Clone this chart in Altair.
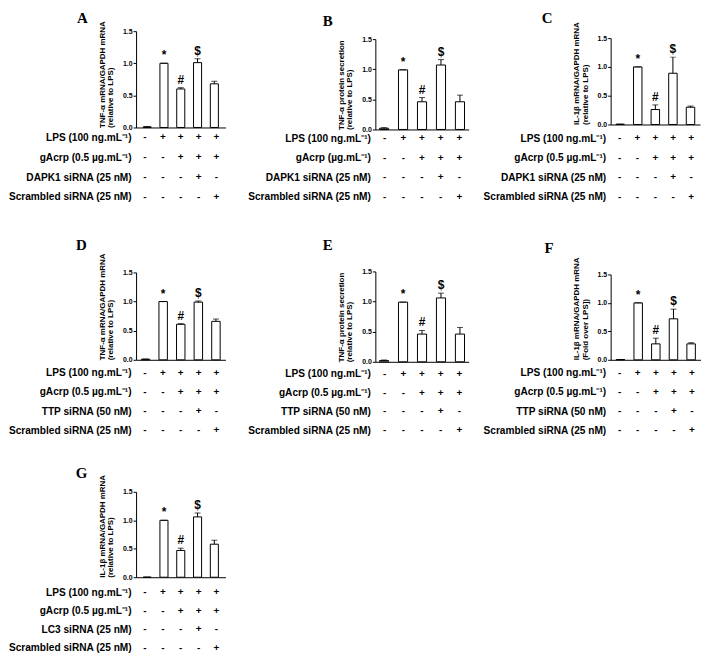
import altair as alt
import pandas as pd

# ---------------- data ----------------
conditions = ["c1", "c2", "c3", "c4", "c5"]
lps_signs = ["-", "+", "+", "+", "+"]
gacrp_signs = ["-", "-", "+", "+", "+"]
sirna_signs = ["-", "-", "-", "+", "-"]
scrambled_signs = ["-", "-", "-", "-", "+"]
sig_symbols = ["", "*", "#", "$", ""]

lps_label = "LPS (100 ng.mL\u207b\u00b9)"
gacrp_label = "gAcrp (0.5 \u00b5g.mL\u207b\u00b9)"
gacrp_label_nodose = "gAcrp (\u00b5g.mL\u207b\u00b9)"
dapk1_label = "DAPK1 siRNA (25 nM)"
ttp_label = "TTP siRNA (50 nM)"
lc3_label = "LC3 siRNA (25 nM)"
scrambled_label = "Scrambled siRNA (25 nM)"

tnf_mrna_title = ["TNF-\u03b1 mRNA/GAPDH mRNA", "(relative to LPS)"]
tnf_protein_title = ["TNF-\u03b1 protein secretion", "(relative to LPS)"]
il1b_title = ["IL-1\u03b2 mRNA/GAPDH mRNA", "(relative to LPS)"]
il1b_fold_title = ["IL-1\u03b2 mRNA/GAPDH mRNA", "(Fold over LPS])"]

a_values = [0.01, 1.00, 0.60, 1.01, 0.68]
a_errors = [0.004, 0.0, 0.02, 0.06, 0.04]
b_values = [0.02, 0.99, 0.46, 1.07, 0.46]
b_errors = [0.01, 0.0, 0.07, 0.09, 0.11]
c_values = [0.005, 1.00, 0.26, 0.89, 0.30]
c_errors = [0.0, 0.0, 0.08, 0.28, 0.02]
d_values = [0.01, 1.00, 0.61, 0.99, 0.66]
d_errors = [0.003, 0.0, 0.01, 0.02, 0.04]
e_values = [0.02, 0.99, 0.46, 1.06, 0.46]
e_errors = [0.01, 0.0, 0.06, 0.08, 0.11]
f_values = [0.005, 1.00, 0.28, 0.72, 0.28]
f_errors = [0.0, 0.0, 0.10, 0.17, 0.02]
g_values = [0.0, 1.00, 0.47, 1.06, 0.58]
g_errors = [0.0, 0.0, 0.04, 0.07, 0.07]

# ---------------- style ----------------
FONT = "Liberation Sans"
SERIF = "Liberation Serif"
INNER = 0.52


def x_scale(plot_w, outer):
    return alt.Scale(domain=conditions, range=[0, plot_w], paddingInner=INNER, paddingOuter=outer)


def bar_panel(letter, values, errors, ytitle, cell_w, plot_w, outer, cell_h, top_gap, title_off, title_dx):
    df = pd.DataFrame({"cond": conditions, "value": values, "err": errors, "sym": sig_symbols})
    xs = x_scale(plot_w, outer)
    x = alt.X("cond:N", scale=xs, sort=conditions,
              axis=alt.Axis(title=None, labels=False, ticks=False, domain=True,
                            domainColor="black", domainWidth=1, grid=False))
    ys = alt.Scale(domain=[0, 1.5], nice=False, zero=True, range=[cell_h, top_gap])
    yaxis = alt.Axis(values=[0, 0.5, 1.0, 1.5], format=".1f", grid=False,
                     domainColor="black", domainWidth=1, tickColor="black", tickSize=3,
                     tickWidth=1, labelFont=FONT, labelFontSize=7, labelFontWeight="bold",
                     labelColor="black", labelPadding=1, title=ytitle, titleFont=FONT,
                     titleFontSize=8, titleFontWeight="bold", titleColor="black",
                     titlePadding=8, titleLineHeight=8.5, titleAnchor="start")
    base = alt.Chart(df).transform_calculate(top="datum.value + datum.err").encode(x=x)
    bars = base.mark_bar(fill="white", stroke="black", strokeWidth=1).encode(
        y=alt.Y("value:Q", scale=ys, axis=yaxis))
    rules = base.mark_rule(color="black", strokeWidth=1).encode(
        y=alt.Y("value:Q", scale=ys, axis=yaxis), y2="top:Q")
    caps = base.mark_tick(color="black", thickness=1, size=6, orient="horizontal").encode(
        y=alt.Y("top:Q", scale=ys, axis=yaxis))
    syms = base.mark_text(font=FONT, fontSize=12, fontWeight="bold", baseline="alphabetic",
                          dy=-4, color="black").encode(
        y=alt.Y("top:Q", scale=ys, axis=yaxis), text="sym:N")
    return alt.layer(bars, rules, caps, syms).properties(
        width=cell_w, height=cell_h,
        title=alt.TitleParams(letter, font=SERIF, fontSize=15, fontWeight="bold",
                              anchor="start", align="center", frame="group", dx=title_dx,
                              offset=title_off, baseline="alphabetic", color="black"))


def table_panel(row_labels, cell_w, plot_w, outer, cell_h, row_start, row_end):
    records = []
    for label, signs in zip(row_labels, [lps_signs, gacrp_signs, sirna_signs, scrambled_signs]):
        for c, s in zip(conditions, signs):
            records.append({"row": label, "cond": c, "sign": s})
    df = pd.DataFrame(records)
    ys = alt.Scale(type="point", domain=row_labels, range=[row_start, row_end], padding=0)
    return alt.Chart(df).mark_text(font=FONT, fontSize=10, fontWeight="bold", color="black").encode(
        x=alt.X("cond:N", scale=x_scale(plot_w, outer), sort=conditions, axis=None),
        y=alt.Y("row:N", scale=ys, sort=row_labels,
                axis=alt.Axis(title=None, domain=False, ticks=False, grid=False,
                              labelFont=FONT, labelFontSize=10.2, labelFontWeight="bold",
                              labelColor="black", labelPadding=5, labelLimit=400)),
        text="sign:N",
    ).properties(width=cell_w, height=cell_h)


def blank():
    return alt.Chart(pd.DataFrame({"v": [0]})).mark_point(opacity=0).encode(
        x=alt.value(0), y=alt.value(0)).properties(width=1, height=1)


rows_dapk1 = [lps_label, gacrp_label, dapk1_label, scrambled_label]
rows_dapk1_b = [lps_label, gacrp_label_nodose, dapk1_label, scrambled_label]
rows_ttp = [lps_label, gacrp_label, ttp_label, scrambled_label]
rows_lc3 = [lps_label, gacrp_label, lc3_label, scrambled_label]

A = bar_panel("A", a_values, a_errors, tnf_mrna_title, 100, 90, 0.42, 97, 0, -17, -54)
B = bar_panel("B", b_values, b_errors, tnf_protein_title, 96, 94, 0.22, 99, 8, -10, -48)
C = bar_panel("C", c_values, c_errors, il1b_title, 90, 90, 0.3, 94, 7, -16, -64)
At = table_panel(rows_dapk1, 100, 90, 0.42, 143, 8, 68)
Bt = table_panel(rows_dapk1_b, 96, 94, 0.22, 143, 9, 68)
Ct = table_panel(rows_dapk1, 90, 90, 0.3, 143, 9, 68)

D = bar_panel("D", d_values, d_errors, tnf_mrna_title, 100, 90, 0.3, 89, 1, -12, -55)
E = bar_panel("E", e_values, e_errors, tnf_protein_title, 96, 94, 0.22, 91, 0, 3, -48)
F = bar_panel("F", f_values, f_errors, il1b_fold_title, 91, 91, 0.32, 89, 3, -11, -62)
Dt = table_panel(rows_ttp, 100, 90, 0.3, 131, 11, 69)
Et = table_panel(rows_ttp, 96, 94, 0.22, 131, 12, 69)
Ft = table_panel(rows_ttp, 91, 91, 0.32, 131, 11, 69)

G = bar_panel("G", g_values, g_errors, il1b_title, 100, 90, 0.42, 86, 0, -19, -55)
Gt = table_panel(rows_lc3, 100, 90, 0.42, 71, 15, 71)

cells = [A, B, C, At, Bt, Ct, D, E, F, Dt, Et, Ft, G, blank(), blank(), Gt]

chart = alt.concat(*cells, columns=3, spacing={"row": 0, "column": 141},
                   bounds="flush", align="each").properties(
    padding=0, background="white").configure_view(stroke=None)

chart.save("out.html", embed_options={"renderer": "svg", "actions": False})
